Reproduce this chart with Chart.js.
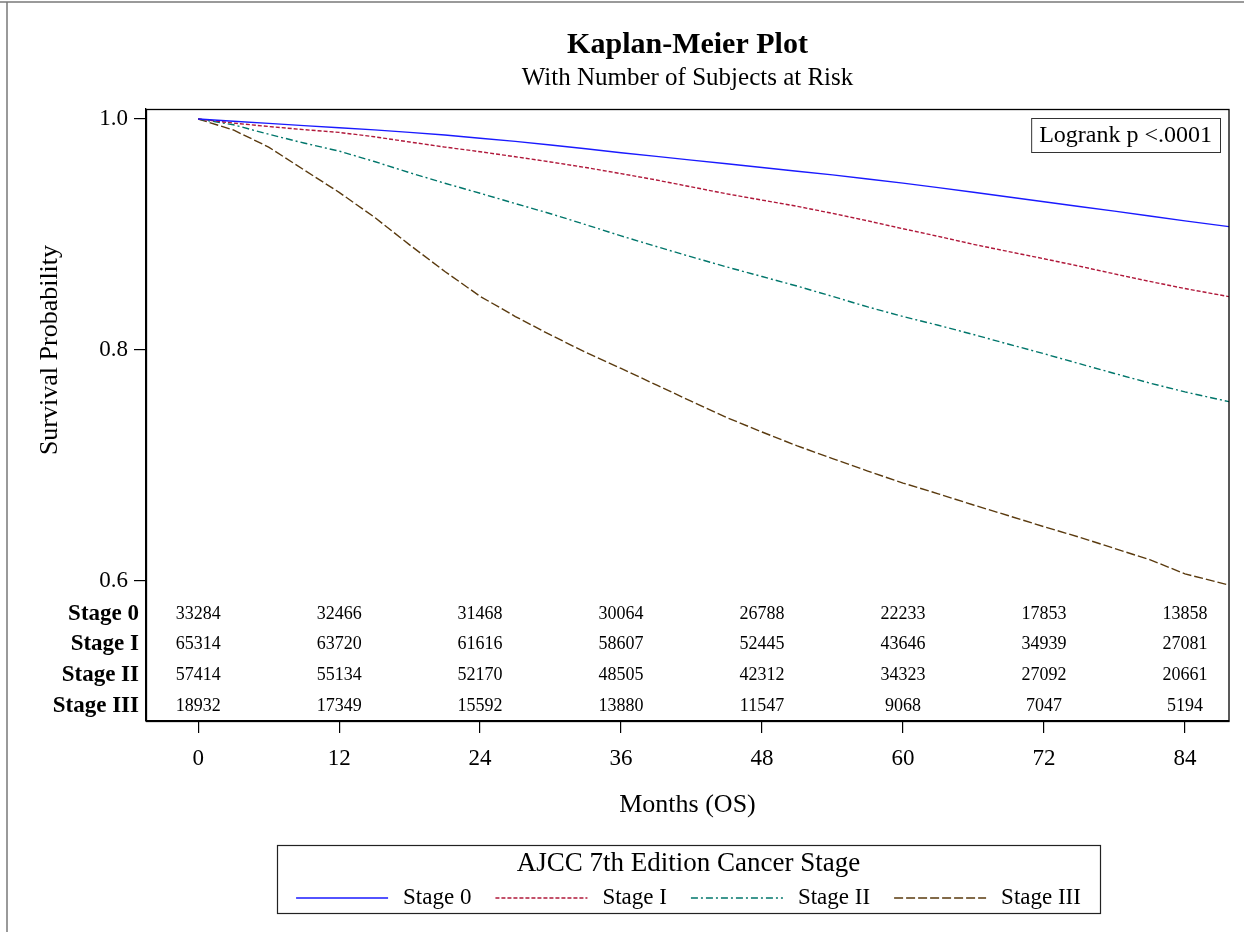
<!DOCTYPE html>
<html>
<head>
<meta charset="utf-8">
<title>Kaplan-Meier Plot</title>
<script src="https://cdn.jsdelivr.net/npm/chart.js@4.4.1/dist/chart.umd.min.js"></script>
<style>
  html, body { margin: 0; padding: 0; background: #fff; }
  #wrap { width: 1244px; height: 932px; position: relative; }
</style>
</head>
<body>
<div id="wrap"><canvas id="km"></canvas></div>
<script>
// Follow-up time (months) at which the survival estimates are listed
const months = [0, 3, 6, 9, 12, 15, 18, 21, 24, 27, 30, 33, 36, 39, 42, 45, 48, 51, 54, 57, 60, 63, 66, 69, 72, 75, 78, 81, 84, 87.75];

// Kaplan-Meier survival estimates per AJCC stage
const stage0   = [1.0, 0.9981, 0.9962, 0.9943, 0.9924, 0.9906, 0.9884, 0.9861, 0.9833, 0.9806, 0.9775, 0.9743, 0.9708, 0.9676, 0.9644, 0.9612, 0.9580, 0.9548, 0.9516, 0.9480, 0.9445, 0.9406, 0.9366, 0.9325, 0.9284, 0.9243, 0.9202, 0.9160, 0.9118, 0.9068];
const stageI   = [1.0, 0.9965, 0.9935, 0.9908, 0.9884, 0.9846, 0.9801, 0.9757, 0.9717, 0.9673, 0.9628, 0.9580, 0.9527, 0.9472, 0.9412, 0.9352, 0.9298, 0.9244, 0.9183, 0.9118, 0.9050, 0.8984, 0.8915, 0.8852, 0.8790, 0.8726, 0.8659, 0.8594, 0.8532, 0.8462];
const stageII  = [1.0, 0.9950, 0.9868, 0.9792, 0.9722, 0.9632, 0.9535, 0.9444, 0.9357, 0.9268, 0.9180, 0.9085, 0.8988, 0.8896, 0.8806, 0.8719, 0.8636, 0.8553, 0.8464, 0.8373, 0.8290, 0.8214, 0.8134, 0.8050, 0.7968, 0.7882, 0.7797, 0.7714, 0.7637, 0.7553];
const stageIII = [1.0, 0.9905, 0.9757, 0.9560, 0.9365, 0.9150, 0.8910, 0.8680, 0.8465, 0.8290, 0.8130, 0.7980, 0.7840, 0.7698, 0.7555, 0.7415, 0.7290, 0.7170, 0.7060, 0.6952, 0.6848, 0.6755, 0.6658, 0.6565, 0.6470, 0.6380, 0.6282, 0.6185, 0.6062, 0.5965];

const stageNames = ['Stage 0', 'Stage I', 'Stage II', 'Stage III'];

// Number of subjects at risk at each x-axis tick
const riskTimes     = [0, 12, 24, 36, 48, 60, 72, 84];
const riskStage0    = [33284, 32466, 31468, 30064, 26788, 22233, 17853, 13858];
const riskStageI    = [65314, 63720, 61616, 58607, 52445, 43646, 34939, 27081];
const riskStageII   = [57414, 55134, 52170, 48505, 42312, 34323, 27092, 20661];
const riskStageIII  = [18932, 17349, 15592, 13880, 11547, 9068, 7047, 5194];

const yTicks = [0.6, 0.8, 1.0];

const titleText    = 'Kaplan-Meier Plot';
const subtitleText = 'With Number of Subjects at Risk';
const yTitleText   = 'Survival Probability';
const xTitleText   = 'Months (OS)';
const testText     = 'Logrank p <.0001';
const legendTitle  = 'AJCC 7th Edition Cancer Stage';

// Line styles
const SERIF = "'Liberation Serif', 'Times New Roman', serif";
const lineColors = ['#1a1aff', '#b0183a', '#00766b', '#5a3a0e'];
const lineDashes = [[], [4, 2], [7, 3, 2, 3], [9, 3]];

const survival = [stage0, stageI, stageII, stageIII];
const atRisk = [riskStage0, riskStageI, riskStageII, riskStageIII];

const datasets = survival.map((vals, i) => ({
  label: stageNames[i],
  data: months.map((m, j) => ({ x: m, y: vals[j] })),
  borderColor: lineColors[i],
  borderDash: lineDashes[i],
  borderWidth: 1.4,
  pointRadius: 0,
  fill: false,
  tension: 0
}));

// Titles, risk table, p-value inset, legend and frame
const decorations = {
  id: 'decorations',
  afterDatasetsDraw(chart) {
    const { ctx, chartArea: a, scales: { x, y } } = chart;
    ctx.save();

    // outer frame lines
    ctx.strokeStyle = '#7a7a7a';
    ctx.lineWidth = 1.5;
    ctx.beginPath();
    ctx.moveTo(0, 2); ctx.lineTo(chart.width, 2);
    ctx.moveTo(7, 2); ctx.lineTo(7, chart.height);
    ctx.stroke();

    // plot box
    ctx.strokeStyle = '#000';
    ctx.lineWidth = 1.3;
    ctx.strokeRect(a.left + 0.5, a.top + 0.5, a.right - a.left - 0.5, a.bottom - a.top);

    const cx = (a.left + a.right) / 2;
    ctx.fillStyle = '#000';
    ctx.textAlign = 'center';
    ctx.textBaseline = 'middle';
    ctx.font = 'bold 30px ' + SERIF;
    ctx.fillText(titleText, cx, 45);
    ctx.font = '25px ' + SERIF;
    ctx.fillText(subtitleText, cx, 78);

    // y-axis title, centred on the survival part of the axis
    const yMid = (y.getPixelForValue(1.0) + y.getPixelForValue(0.6)) / 2;
    ctx.save();
    ctx.translate(50, yMid);
    ctx.rotate(-Math.PI / 2);
    ctx.font = '26px ' + SERIF;
    ctx.fillText(yTitleText, 0, 0);
    ctx.restore();

    // risk table inside the axis box, below 0.6
    const base = y.getPixelForValue(0.6);
    const rowOffsets = [33, 63.5, 94, 125];
    atRisk.forEach((row, r) => {
      const ry = base + rowOffsets[r];
      ctx.font = 'bold 23px ' + SERIF;
      ctx.textAlign = 'right';
      ctx.fillText(stageNames[r], a.left - 7, ry);
      ctx.font = '18px ' + SERIF;
      ctx.textAlign = 'center';
      row.forEach((n, k) => ctx.fillText(String(n), x.getPixelForValue(riskTimes[k]), ry));
    });

    // log-rank inset
    ctx.font = '24px ' + SERIF;
    const tw = ctx.measureText(testText).width;
    const bx = a.right - 9 - (tw + 16), by = a.top + 9;
    ctx.strokeStyle = '#333';
    ctx.lineWidth = 1;
    ctx.strokeRect(bx + 0.5, by + 0.5, tw + 16, 34);
    ctx.textAlign = 'center';
    ctx.fillText(testText, bx + (tw + 16) / 2, by + 18);

    // legend
    const lx = 277, ly = 845, lw = 823, lh = 68;
    ctx.strokeStyle = '#222';
    ctx.lineWidth = 1.2;
    ctx.strokeRect(lx + 0.5, ly + 0.5, lw, lh);
    ctx.font = '27px ' + SERIF;
    ctx.fillText(legendTitle, lx + lw / 2, ly + 19);
    ctx.font = '23px ' + SERIF;
    const sample = 92, gap1 = 15, gap2 = 24;
    const widths = stageNames.map(s => ctx.measureText(s).width);
    const total = widths.reduce((s, w) => s + w, 0) + stageNames.length * (sample + gap1) + (stageNames.length - 1) * gap2;
    let px = lx + lw / 2 - total / 2;
    const iy = ly + 53;
    chart.data.datasets.forEach((ds, i) => {
      ctx.strokeStyle = ds.borderColor;
      ctx.lineWidth = 1.4;
      ctx.setLineDash(ds.borderDash);
      ctx.beginPath();
      ctx.moveTo(px, iy); ctx.lineTo(px + sample, iy);
      ctx.stroke();
      ctx.setLineDash([]);
      px += sample + gap1;
      ctx.textAlign = 'left';
      ctx.fillStyle = '#000';
      ctx.fillText(stageNames[i], px, iy);
      px += widths[i] + gap2;
    });

    ctx.restore();
  }
};

const axisGrid = { display: true, drawOnChartArea: false, drawTicks: true, tickLength: 12, color: '#000', lineWidth: 1.2 };

new Chart(document.getElementById('km'), {
  type: 'line',
  data: { datasets },
  options: {
    responsive: true,
    maintainAspectRatio: false,
    animation: false,
    layout: { padding: { left: 0, top: 109, right: 15, bottom: 0 } },
    plugins: { legend: { display: false }, tooltip: { enabled: false } },
    scales: {
      x: {
        type: 'linear',
        bounds: 'data',
        min: -4.44,
        max: 87.75,
        afterBuildTicks(s) { s.ticks = riskTimes.map(v => ({ value: v })); },
        afterFit(s) { s.height = 211; },
        grid: axisGrid,
        border: { display: true, color: '#000', width: 1.3 },
        ticks: { font: { family: SERIF, size: 23 }, color: '#000', padding: 12, maxRotation: 0, autoSkip: false },
        title: { display: true, text: xTitleText, color: '#000', font: { family: SERIF, size: 26 }, padding: { top: 0, bottom: 111 } }
      },
      y: {
        type: 'linear',
        bounds: 'data',
        min: 0.4788,
        max: 1.00866,
        afterBuildTicks(s) { s.ticks = yTicks.map(v => ({ value: v })); },
        afterFit(s) { s.width = 146; },
        grid: axisGrid,
        border: { display: true, color: '#000', width: 1.3 },
        ticks: { font: { family: SERIF, size: 23 }, color: '#000', padding: 6, callback: v => Number(v).toFixed(1) }
      }
    }
  },
  plugins: [decorations]
});
</script>
</body>
</html>
